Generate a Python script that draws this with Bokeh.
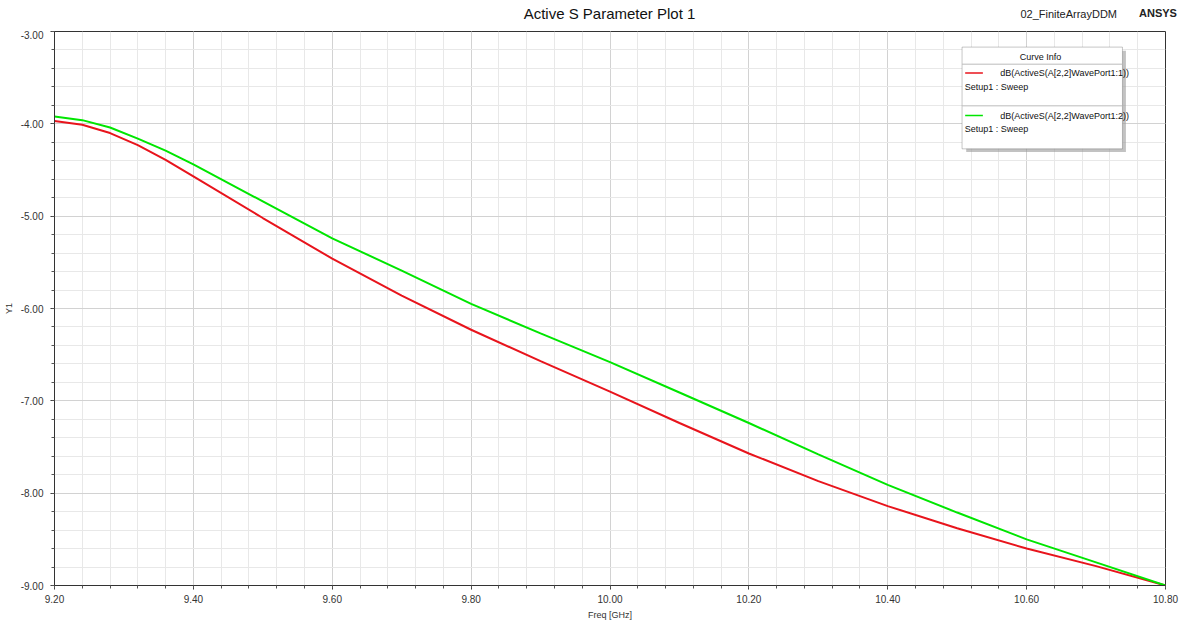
from bokeh.plotting import figure
from bokeh.layouts import column
from bokeh.models import (Range1d, FixedTicker, NumeralTickFormatter, Label, Div,
                          BoxAnnotation, Arrow, ColumnDataSource)
from bokeh.embed import file_html
from bokeh.resources import INLINE

# ---- data ----
freq = [9.20, 9.24, 9.28, 9.32, 9.36, 9.40, 9.50, 9.60, 9.70, 9.80, 9.90,
        10.00, 10.10, 10.20, 10.30, 10.40, 10.50, 10.60, 10.70, 10.80]
s_port1 = [-3.97, -4.01, -4.10, -4.23, -4.39, -4.57, -5.02, -5.46, -5.86, -6.23, -6.57,
           -6.90, -7.24, -7.57, -7.87, -8.14, -8.38, -8.60, -8.79, -9.00]
s_port2 = [-3.92, -3.96, -4.04, -4.16, -4.29, -4.44, -4.84, -5.24, -5.59, -5.95, -6.27,
           -6.58, -6.91, -7.24, -7.58, -7.91, -8.21, -8.50, -8.75, -9.00]

x_ticks = [9.2, 9.4, 9.6, 9.8, 10.0, 10.2, 10.4, 10.6, 10.8]
y_ticks = [-9.0, -8.0, -7.0, -6.0, -5.0, -4.0, -3.0]
x_minor = [round(9.2 + 0.04 * i, 2) for i in range(41)]
y_minor = [round(-9.0 + 0.2 * i, 1) for i in range(31)]

title_text = "Active S Parameter Plot 1"
design_text = "02_FiniteArrayDDM"
brand_text = "ANSYS"
labels = ["dB(ActiveS(A[2,2]WavePort1:1))", "dB(ActiveS(A[2,2]WavePort1:2))"]
setup_label = "Setup1 : Sweep"
colors = ["#e8141c", "#00e600"]

FONT = "Liberation Sans"

# ---- header strip (title + design name) ----
header_html = (
    "<div style=\"position:relative;width:1185px;height:30px;"
    "font-family:'Liberation Sans',Arial,sans-serif;\">"
    "<span style=\"position:absolute;left:0;width:1219px;top:3px;text-align:center;"
    "font-size:15px;color:#111111;white-space:nowrap;\">" + title_text + "</span>"
    "<span style=\"position:absolute;right:68px;top:7px;font-size:11px;color:#222222;"
    "white-space:nowrap;\">" + design_text + "</span>"
    "<span style=\"position:absolute;left:1139px;top:6px;font-size:11px;font-weight:bold;"
    "color:#222222;white-space:nowrap;\">" + brand_text + "</span>"
    "</div>"
)
header = Div(text=header_html, width=1185, height=30, margin=0)

p = figure(width=1185, height=596, output_backend="svg", toolbar_location=None,
           x_range=Range1d(9.2, 10.8), y_range=Range1d(-9.0, -3.0),
           min_border_left=54, min_border_right=20, min_border_top=1,
           min_border_bottom=41, background_fill_color="white",
           border_fill_color="white", margin=0)

p.outline_line_color = "#333333"
p.outline_line_width = 1

p.xaxis.ticker = FixedTicker(ticks=x_ticks, minor_ticks=x_minor)
p.yaxis.ticker = FixedTicker(ticks=y_ticks, minor_ticks=y_minor)
p.xaxis.formatter = NumeralTickFormatter(format="0.00")
p.yaxis.formatter = NumeralTickFormatter(format="0.00")

for ax in (p.xaxis, p.yaxis):
    ax.axis_line_color = "#333333"
    ax.major_tick_line_color = "#333333"
    ax.minor_tick_line_color = "#555555"
    ax.major_tick_out = 4
    ax.major_tick_in = 0
    ax.minor_tick_out = 3
    ax.minor_tick_in = 0
    ax.major_label_text_font = FONT
    ax.major_label_text_font_size = "10px"
    ax.major_label_text_color = "#333333"
    ax.axis_label_text_font = FONT
    ax.axis_label_text_font_size = "9px"
    ax.axis_label_text_font_style = "normal"
    ax.axis_label_text_color = "#333333"

p.xaxis.axis_label = "Freq [GHz]"
p.yaxis.axis_label = "Y1"
p.xaxis.major_label_standoff = 5
p.xaxis.axis_label_standoff = 4
p.yaxis.major_label_standoff = 7
p.yaxis.axis_label_standoff = 4

p.xgrid.grid_line_color = "#d2d2d2"
p.ygrid.grid_line_color = "#d2d2d2"
p.xgrid.minor_grid_line_color = "#e8e8e8"
p.ygrid.minor_grid_line_color = "#e8e8e8"

src = ColumnDataSource(dict(f=freq, a=s_port1, b=s_port2))
p.line("f", "a", source=src, line_color=colors[0], line_width=2)
p.line("f", "b", source=src, line_color=colors[1], line_width=2)

# ---- curve info box ----
L, R, T, B = 10.507, 10.738, -3.169, -4.271
p.add_layout(BoxAnnotation(left=L + 0.006, right=R + 0.005, top=T - 0.04, bottom=B - 0.035,
                           fill_color="#9a9a9a", fill_alpha=0.6, line_color=None,
                           level="overlay"))
p.add_layout(BoxAnnotation(left=L, right=R, top=T, bottom=B,
                           fill_color="white", fill_alpha=1.0, line_color="#444444",
                           line_width=1, level="overlay"))
p.add_layout(Arrow(x_start=L, y_start=-3.354, x_end=R, y_end=-3.354, end=None,
                   line_color="#bbbbbb", line_width=1, level="overlay"))
p.add_layout(Arrow(x_start=L, y_start=-3.805, x_end=R, y_end=-3.805, end=None,
                   line_color="#bbbbbb", line_width=1, level="overlay"))
p.add_layout(Label(x=10.620, y=-3.277, text="Curve Info", text_font=FONT,
                   text_font_size="9px", text_color="#111111", text_align="center",
                   text_baseline="middle", level="overlay"))
for i, yy in enumerate([-3.45, -3.91]):
    p.add_layout(Arrow(x_start=10.5115, y_start=yy, x_end=10.537, y_end=yy, end=None,
                       line_color=colors[i], line_width=1.5, level="overlay"))
    p.add_layout(Label(x=10.562, y=yy, text=labels[i], text_font=FONT,
                       text_font_size="9px", text_color="#111111", text_align="left",
                       text_baseline="middle", level="overlay"))
    p.add_layout(Label(x=10.511, y=yy - 0.15, text=setup_label, text_font=FONT,
                       text_font_size="9px", text_color="#111111", text_align="left",
                       text_baseline="middle", level="overlay"))

layout = column(header, p, spacing=0, margin=0)
open("out.html", "w").write(file_html(layout, INLINE))
